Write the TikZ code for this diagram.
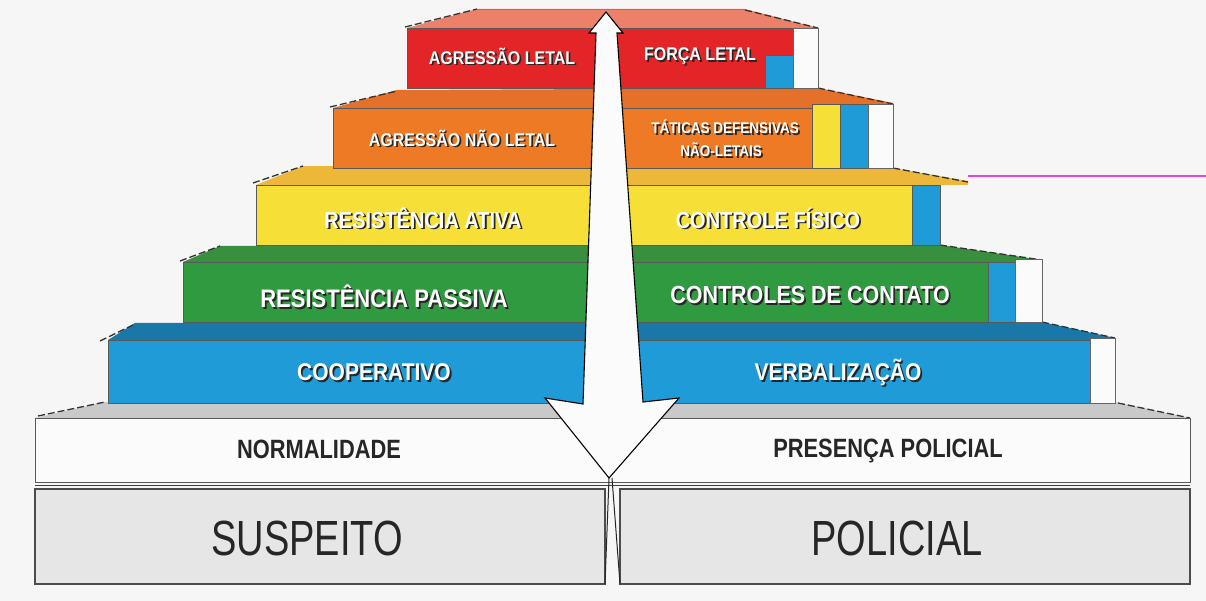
\documentclass[tikz,border=0pt]{standalone}
\usepackage{fontspec}
\setmainfont{Liberation Sans}
\usetikzlibrary{calc}
\definecolor{bg}{HTML}{F6F6F6}
\definecolor{redc}{HTML}{E42528}
\definecolor{roofred}{HTML}{EC8068}
\definecolor{orc}{HTML}{EE7A25}
\definecolor{roofor}{HTML}{E4702A}
\definecolor{yelc}{HTML}{F6DF36}
\definecolor{roofyel}{HTML}{EDB83A}
\definecolor{grc}{HTML}{2F9A3F}
\definecolor{roofgr}{HTML}{38903F}
\definecolor{blc}{HTML}{1F9BD7}
\definecolor{roofbl}{HTML}{1A78A8}
\definecolor{ledge}{HTML}{C9C9C9}
\definecolor{whitebox}{HTML}{FBFBFB}
\definecolor{graybox}{HTML}{E6E6E6}
\definecolor{magline}{HTML}{E048E0}
\tikzset{
  front/.style={draw=black!65, line width=0.8pt},
  panel/.style={draw=black!60, line width=0.8pt, fill=whitebox},
  roofdash/.style={draw=black!80, dash pattern=on 7pt off 3pt, line width=1.3pt},
  lab/.style={text=white, inner sep=0pt},
  labsh/.style={text=black!85, inner sep=0pt},
  darklab/.style={text=black!85, inner sep=0pt},
}
\newcommand{\slab}[5]{%
  \node[labsh, font=\fontsize{#4}{#4}\selectfont\bfseries] at (#2+1.8,#3+1.8) {\scalebox{1}[1.15]{#5}};
  \node[lab, font=\fontsize{#4}{#4}\selectfont\bfseries] (#1) at (#2,#3) {\scalebox{1}[1.15]{#5}};}
\begin{document}
\begin{tikzpicture}[x=1pt,y=-1pt]
\useasboundingbox (0,0) rectangle (1206,601);
\fill[bg] (0,0) rectangle (1206,601);

% ---- row 7: gray base boxes
\draw[black!75, line width=1pt] (35,485) -- (1190,485);
\filldraw[fill=graybox, draw=black!70, line width=1.2pt] (35,489) rectangle (605,584);
\filldraw[fill=graybox, draw=black!70, line width=1.2pt] (620,489) rectangle (1190,584);

% ---- row 6: white boxes with gray ledge
\fill[ledge] (35,418) -- (105,402) -- (1115,402) -- (1190,418) -- cycle;
\draw[roofdash] (38,416) -- (105,402);
\draw[roofdash] (1118,403) -- (1190,418);
\filldraw[fill=whitebox, draw=black!65, line width=1pt] (35,418) rectangle (1190,482);

% ---- row 5: blue
\fill[roofbl] (108,340) -- (135,323) -- (1042,322) -- (1115,338) -- (1115,340) -- cycle;
\draw[roofdash] (100,341) -- (135,324);
\draw[roofdash] (1042,322) -- (1115,338);
\filldraw[fill=blc, front] (108,340) rectangle (1090,403);
\filldraw[panel] (1090,338) rectangle (1115,403);

% ---- row 4: green
\fill[roofgr] (183,262) -- (220,246) -- (940,245) -- (1042,260) -- (1042,262) -- cycle;
\draw[roofdash] (180,261) -- (220,246);
\draw[roofdash] (940,245) -- (1042,260);
\filldraw[fill=grc, front] (183,262) rectangle (988,322);
\filldraw[fill=blc, front] (988,262) rectangle (1015,322);
\filldraw[panel] (1015,259) rectangle (1042,322);

% ---- row 3: yellow
\fill[roofyel] (256,185) -- (303,166) -- (893,168) -- (968,181) -- (968,185) -- cycle;
\draw[roofdash] (253,183) -- (303,166);
\draw[roofdash] (893,168) -- (968,182);
\filldraw[fill=yelc, front] (256,185) rectangle (912,245);
\filldraw[fill=blc, front] (912,185) rectangle (940,245);
\draw[magline, line width=2.2pt] (968,176) -- (1206,176);

% ---- row 2: orange
\fill[roofor] (333,108) -- (397,90) -- (818,88) -- (893,103) -- (893,108) -- cycle;
\draw[roofdash] (330,107) -- (397,91);
\draw[roofdash] (818,88) -- (893,104);
\filldraw[fill=orc, front] (333,108) rectangle (812,168);
\filldraw[fill=yelc, front] (812,104) rectangle (840,168);
\filldraw[fill=blc, front] (840,104) rectangle (868,168);
\filldraw[panel] (868,104) rectangle (893,168);

% ---- row 1: red
\fill[roofred] (407,28) -- (477,9) -- (745,9) -- (818,28) -- cycle;
\draw[roofdash] (405,27) -- (477,9);
\draw[black!50, line width=0.8pt] (477,9) -- (745,9);
\draw[roofdash] (745,10) -- (818,28);
\filldraw[fill=redc, front] (407,28) rectangle (793,88);
\filldraw[fill=blc, front] (765,55) rectangle (793,88);
\filldraw[panel] (793,28) rectangle (818,88);

% ---- double-headed arrow
\filldraw[fill=whitebox, draw=black, line width=1.1pt, line join=miter]
  (606,12) -- (623,33) -- (617,33) -- (643,402) -- (679,398) -- (609,478)
  -- (545,398) -- (583,404) -- (596,33) -- (589,33) -- cycle;
\draw[black!85, line width=1pt] (609,478) -- (605,584);
\draw[black!85, line width=1pt] (612,478) -- (620,584);

% ---- labels
\slab{agl}{502}{56}{16}{AGRESSÃO LETAL}
\slab{fl}{700}{56}{16}{FORÇA LETAL}
\slab{agnl}{462}{138}{16}{AGRESSÃO NÃO LETAL}
\slab{tdn1}{725}{127}{13.5}{TÁTICAS DEFENSIVAS}
\slab{tdn2}{721}{150}{13.5}{NÃO-LETAIS}
\slab{ra}{423}{218}{20}{RESISTÊNCIA ATIVA}
\slab{cf}{768}{218}{20}{CONTROLE FÍSICO}
\slab{rp}{384}{296}{22}{RESISTÊNCIA PASSIVA}
\slab{cc}{810}{295}{21.5}{CONTROLES DE CONTATO}
\slab{coop}{374}{372}{21}{COOPERATIVO}
\slab{verb}{838}{372}{21}{VERBALIZAÇÃO}

\node[darklab, font=\fontsize{23}{23}\selectfont\bfseries] (norm) at (319,449) {\scalebox{0.95}[1.15]{NORMALIDADE}};
\node[darklab, font=\fontsize{23}{23}\selectfont\bfseries] (pres) at (888,451) {\scalebox{0.95}[1.15]{PRESENÇA POLICIAL}};
\node[darklab, font=\fontsize{38}{38}\selectfont] (susp) at (307,538) {\scalebox{1}[1.3]{SUSPEITO}};
\node[darklab, font=\fontsize{38}{38}\selectfont] (pol) at (897,538) {\scalebox{1}[1.3]{POLICIAL}};
\end{tikzpicture}
\end{document}
